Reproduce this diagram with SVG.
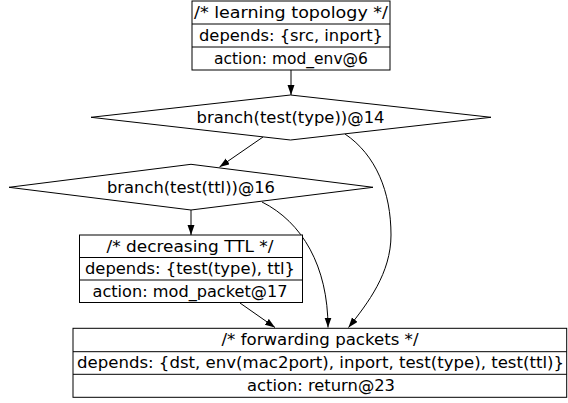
<svg xmlns="http://www.w3.org/2000/svg" width="568" height="403" viewBox="0 0 568 403">
  <style>
    .shape { fill: #ffffff; stroke: #000000; stroke-width: 1; }
    .div { stroke: #000000; stroke-width: 1; fill: none; }
    .lbl { font-family: "DejaVu Sans", Verdana, sans-serif; font-size: 15.5px; fill: #000000; text-anchor: middle; }
    .edge { fill: none; stroke: #000000; stroke-width: 1; marker-end: url(#arrow); }
  </style>
  <defs>
    <marker id="arrow" markerUnits="userSpaceOnUse" markerWidth="10" markerHeight="8" refX="10" refY="3.5" orient="auto">
      <path d="M0,0 L10,3.5 L0,7 z" fill="#000000"/>
    </marker>
  </defs>
  <rect width="568" height="403" fill="#ffffff"/>

  <!-- connectors -->
  <g id="edges">
    <path class="edge" d="M291,70 L291,95"/>
    <path class="edge" d="M263,137 L219.5,167"/>
    <path class="edge" d="M345,134 C376,155 391,192 391,235 C391,273 368,303 348.5,327.5"/>
    <path class="edge" d="M262,202 C302,222 328,266 328,327.5"/>
    <path class="edge" d="M191,210 L191,235"/>
    <path class="edge" d="M240,303 L275,327.5"/>
  </g>

  <!-- record: learning topology -->
  <g id="learning">
    <rect class="shape" x="192" y="1" width="198" height="69"/>
    <path class="div" d="M192,24 H390 M192,47 H390"/>
    <text class="lbl" x="291" y="18" textLength="194" lengthAdjust="spacingAndGlyphs">/* learning topology */</text>
    <text class="lbl" x="291" y="41" textLength="184" lengthAdjust="spacingAndGlyphs">depends: {src, inport}</text>
    <text class="lbl" x="291" y="64" textLength="154" lengthAdjust="spacingAndGlyphs">action: mod_env@6</text>
  </g>

  <!-- decision: type test -->
  <g id="branch14">
    <polygon class="shape" points="91,117.3 290.5,95 491,117.3 290.5,140"/>
    <text class="lbl" x="290.5" y="122.8" textLength="188" lengthAdjust="spacingAndGlyphs">branch(test(type))@14</text>
  </g>

  <!-- decision: ttl test -->
  <g id="branch16">
    <polygon class="shape" points="9,187.3 191,164.3 373,187.3 191,210"/>
    <text class="lbl" x="191" y="192.8" textLength="168" lengthAdjust="spacingAndGlyphs">branch(test(ttl))@16</text>
  </g>

  <!-- record: decreasing TTL -->
  <g id="decreasing">
    <rect class="shape" x="79.5" y="235" width="223" height="67.5"/>
    <path class="div" d="M79.5,257.5 H302.5 M79.5,280 H302.5"/>
    <text class="lbl" x="190" y="251.5" textLength="167" lengthAdjust="spacingAndGlyphs">/* decreasing TTL */</text>
    <text class="lbl" x="190" y="274" textLength="210" lengthAdjust="spacingAndGlyphs">depends: {test(type), ttl}</text>
    <text class="lbl" x="190" y="296.5" textLength="195" lengthAdjust="spacingAndGlyphs">action: mod_packet@17</text>
  </g>

  <!-- record: forwarding packets -->
  <g id="forwarding">
    <rect class="shape" x="73" y="328.3" width="493.7" height="69"/>
    <path class="div" d="M73,351.7 H566.7 M73,374.3 H566.7"/>
    <text class="lbl" x="320" y="345.3" textLength="197" lengthAdjust="spacingAndGlyphs">/* forwarding packets */</text>
    <text class="lbl" x="320.5" y="368.3" textLength="487" lengthAdjust="spacingAndGlyphs">depends: {dst, env(mac2port), inport, test(type), test(ttl)}</text>
    <text class="lbl" x="321" y="391.3" textLength="148" lengthAdjust="spacingAndGlyphs">action: return@23</text>
  </g>
</svg>
